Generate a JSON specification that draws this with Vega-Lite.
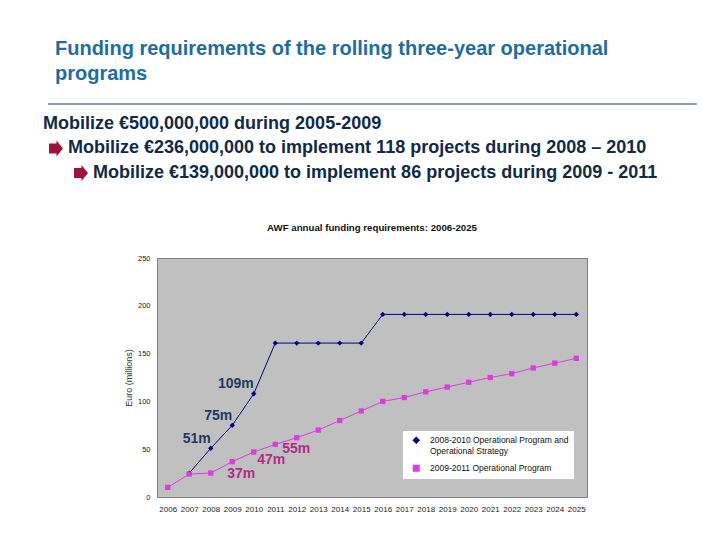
{
  "$schema": "https://vega.github.io/schema/vega-lite/v6.json",
  "width": 430,
  "height": 239,
  "autosize": {"type": "none"},
  "padding": {"left": 157, "top": 258, "right": 133, "bottom": 44},
  "background": "#ffffff",
  "config": {
    "view": {"fill": "#C0C0C0", "stroke": "#808080", "strokeWidth": 1},
    "font": "Liberation Sans",
    "legend": {
      "title": null,
      "orient": "none",
      "legendX": 246,
      "legendY": 173,
      "fillColor": "#FFFFFF",
      "padding": 5,
      "labelFont": "Liberation Sans",
      "labelFontSize": 8.5,
      "labelColor": "#111111",
      "labelLimit": 300,
      "labelOffset": 9.5,
      "symbolOffset": 4,
      "rowPadding": 6,
      "symbolSize": 30,
      "symbolOpacity": 1
    }
  },
  "title": {
    "text": "AWF annual funding requirements: 2006-2025",
    "font": "Liberation Sans",
    "fontSize": 9.7,
    "fontWeight": "bold",
    "color": "#111111",
    "anchor": "middle",
    "offset": 24,
    "dy": 218
  },
  "datasets": {
    "funding": [
      {"year": "2007", "program": "2008-2010 Operational Program and Operational Strategy", "value": 25},
      {"year": "2008", "program": "2008-2010 Operational Program and Operational Strategy", "value": 51},
      {"year": "2009", "program": "2008-2010 Operational Program and Operational Strategy", "value": 75},
      {"year": "2010", "program": "2008-2010 Operational Program and Operational Strategy", "value": 108},
      {"year": "2011", "program": "2008-2010 Operational Program and Operational Strategy", "value": 161},
      {"year": "2012", "program": "2008-2010 Operational Program and Operational Strategy", "value": 161},
      {"year": "2013", "program": "2008-2010 Operational Program and Operational Strategy", "value": 161},
      {"year": "2014", "program": "2008-2010 Operational Program and Operational Strategy", "value": 161},
      {"year": "2015", "program": "2008-2010 Operational Program and Operational Strategy", "value": 161},
      {"year": "2016", "program": "2008-2010 Operational Program and Operational Strategy", "value": 191},
      {"year": "2017", "program": "2008-2010 Operational Program and Operational Strategy", "value": 191},
      {"year": "2018", "program": "2008-2010 Operational Program and Operational Strategy", "value": 191},
      {"year": "2019", "program": "2008-2010 Operational Program and Operational Strategy", "value": 191},
      {"year": "2020", "program": "2008-2010 Operational Program and Operational Strategy", "value": 191},
      {"year": "2021", "program": "2008-2010 Operational Program and Operational Strategy", "value": 191},
      {"year": "2022", "program": "2008-2010 Operational Program and Operational Strategy", "value": 191},
      {"year": "2023", "program": "2008-2010 Operational Program and Operational Strategy", "value": 191},
      {"year": "2024", "program": "2008-2010 Operational Program and Operational Strategy", "value": 191},
      {"year": "2025", "program": "2008-2010 Operational Program and Operational Strategy", "value": 191},
      {"year": "2006", "program": "2009-2011 Operational Program", "value": 10},
      {"year": "2007", "program": "2009-2011 Operational Program", "value": 24},
      {"year": "2008", "program": "2009-2011 Operational Program", "value": 25},
      {"year": "2009", "program": "2009-2011 Operational Program", "value": 37},
      {"year": "2010", "program": "2009-2011 Operational Program", "value": 47},
      {"year": "2011", "program": "2009-2011 Operational Program", "value": 55},
      {"year": "2012", "program": "2009-2011 Operational Program", "value": 62},
      {"year": "2013", "program": "2009-2011 Operational Program", "value": 70},
      {"year": "2014", "program": "2009-2011 Operational Program", "value": 80},
      {"year": "2015", "program": "2009-2011 Operational Program", "value": 90},
      {"year": "2016", "program": "2009-2011 Operational Program", "value": 100},
      {"year": "2017", "program": "2009-2011 Operational Program", "value": 104},
      {"year": "2018", "program": "2009-2011 Operational Program", "value": 110},
      {"year": "2019", "program": "2009-2011 Operational Program", "value": 115},
      {"year": "2020", "program": "2009-2011 Operational Program", "value": 120},
      {"year": "2021", "program": "2009-2011 Operational Program", "value": 125},
      {"year": "2022", "program": "2009-2011 Operational Program", "value": 129},
      {"year": "2023", "program": "2009-2011 Operational Program", "value": 135},
      {"year": "2024", "program": "2009-2011 Operational Program", "value": 140},
      {"year": "2025", "program": "2009-2011 Operational Program", "value": 145}
    ],
    "labels": [
      {"year": "2008", "value": 51, "label": "51m", "program": "2008-2010"},
      {"year": "2009", "value": 75, "label": "75m", "program": "2008-2010"},
      {"year": "2010", "value": 109, "label": "109m", "program": "2008-2010"},
      {"year": "2009", "value": 37, "label": "37m", "program": "2009-2011"},
      {"year": "2010", "value": 47, "label": "47m", "program": "2009-2011"},
      {"year": "2011", "value": 55, "label": "55m", "program": "2009-2011"}
    ],
    "slideTitle": [
      {"text": "Funding requirements of the rolling three-year operational", "line": 1, "level": 0},
      {"text": "programs", "line": 2, "level": 0}
    ],
    "slideRule": [
      {"line": 3, "level": 0.2, "levelEnd": 26.15}
    ],
    "slideBullets": [
      {"text": "Mobilize €500,000,000 during 2005-2009", "line": 4, "level": 0},
      {"text": "Mobilize €236,000,000 to implement 118 projects during 2008 – 2010", "line": 5, "level": 1},
      {"text": "Mobilize €139,000,000 to implement 86 projects during 2009 - 2011", "line": 6, "level": 2}
    ]
  },
  "layer": [
    {
      "layer": [
        {
          "data": {"name": "funding"},
          "mark": {"type": "line", "strokeWidth": 1},
          "encoding": {
            "x": {
              "field": "year", "type": "ordinal",
              "scale": {"type": "point", "padding": 0.5},
              "axis": {"title": null, "labelAngle": 0, "labelFontSize": 8, "labelColor": "#222222", "ticks": false, "domain": false, "labelPadding": 8, "labelOverlap": false, "grid": false}
            },
            "y": {
              "field": "value", "type": "quantitative",
              "scale": {"domain": [0, 250], "nice": false},
              "axis": {"values": [0, 50, 100, 150, 200, 250], "title": "Euro (millions)", "titleFontSize": 9, "titleFontWeight": "normal", "titleColor": "#333333", "titlePadding": 4, "labelFontSize": 7.5, "labelColor": "#222222", "ticks": false, "domain": false, "grid": false, "labelPadding": 7}
            },
            "color": {
              "field": "program", "type": "nominal",
              "scale": {"domain": ["2008-2010 Operational Program and Operational Strategy", "2009-2011 Operational Program"], "range": ["#000080", "#DD3CDD"]},
              "legend": {
                "labelExpr": "datum.label === '2008-2010 Operational Program and Operational Strategy' ? ['2008-2010 Operational Program and', 'Operational Strategy'] : datum.label"
              }
            }
          }
        },
        {
          "data": {"name": "funding"},
          "mark": {"type": "point", "filled": true, "opacity": 1, "size": 28},
          "encoding": {
            "x": {"field": "year", "type": "ordinal"},
            "y": {"field": "value", "type": "quantitative"},
            "color": {
              "field": "program", "type": "nominal",
              "legend": {
                "labelExpr": "datum.label === '2008-2010 Operational Program and Operational Strategy' ? ['2008-2010 Operational Program and', 'Operational Strategy'] : datum.label"
              }
            },
            "shape": {
              "field": "program", "type": "nominal",
              "scale": {"domain": ["2008-2010 Operational Program and Operational Strategy", "2009-2011 Operational Program"], "range": ["diamond", "square"]},
              "legend": null
            }
          }
        },
        {
          "data": {"name": "labels"},
          "transform": [{"filter": "datum.program === '2008-2010'"}],
          "mark": {"type": "text", "align": "right", "baseline": "alphabetic", "dx": 0, "dy": -5, "font": "Liberation Sans", "fontSize": 14, "fontWeight": "bold", "color": "#1E3A5F"},
          "encoding": {
            "x": {"field": "year", "type": "ordinal"},
            "y": {"field": "value", "type": "quantitative"},
            "text": {"field": "label"}
          }
        },
        {
          "data": {"name": "labels"},
          "transform": [{"filter": "datum.label === '37m'"}],
          "mark": {"type": "text", "align": "left", "baseline": "alphabetic", "dx": -5, "dy": 16, "font": "Liberation Sans", "fontSize": 14, "fontWeight": "bold", "color": "#B02C87"},
          "encoding": {
            "x": {"field": "year", "type": "ordinal"},
            "y": {"field": "value", "type": "quantitative"},
            "text": {"field": "label"}
          }
        },
        {
          "data": {"name": "labels"},
          "transform": [{"filter": "datum.label === '47m'"}],
          "mark": {"type": "text", "align": "left", "baseline": "alphabetic", "dx": 3.5, "dy": 12, "font": "Liberation Sans", "fontSize": 14, "fontWeight": "bold", "color": "#B02C87"},
          "encoding": {
            "x": {"field": "year", "type": "ordinal"},
            "y": {"field": "value", "type": "quantitative"},
            "text": {"field": "label"}
          }
        },
        {
          "data": {"name": "labels"},
          "transform": [{"filter": "datum.label === '55m'"}],
          "mark": {"type": "text", "align": "left", "baseline": "alphabetic", "dx": 7, "dy": 9, "font": "Liberation Sans", "fontSize": 14, "fontWeight": "bold", "color": "#B02C87"},
          "encoding": {
            "x": {"field": "year", "type": "ordinal"},
            "y": {"field": "value", "type": "quantitative"},
            "text": {"field": "label"}
          }
        }
      ]
    },
    {
      "layer": [
        {
          "data": {"name": "slideTitle"},
          "mark": {"type": "text", "align": "left", "baseline": "alphabetic", "dx": 12, "font": "Liberation Sans", "fontSize": 20, "fontWeight": "bold", "color": "#1F6CA0"},
          "encoding": {
            "x": {"field": "level", "type": "quantitative", "scale": {"domain": [0, 26], "range": [-114, 536], "nice": false, "zero": false}, "axis": null},
            "y": {"field": "line", "type": "quantitative", "scale": {"domain": [1, 6], "range": [-203, -80.5], "nice": false, "zero": false}, "axis": null},
            "text": {"field": "text"}
          }
        },
        {
          "data": {"name": "slideRule"},
          "mark": {"type": "rule", "color": "#1B3349", "strokeWidth": 1},
          "encoding": {
            "x": {"field": "level", "type": "quantitative", "axis": null},
            "x2": {"field": "levelEnd"},
            "y": {"field": "line", "type": "quantitative", "axis": null}
          }
        },
        {
          "data": {"name": "slideBullets"},
          "mark": {"type": "text", "align": "left", "baseline": "alphabetic", "font": "Liberation Sans", "fontSize": 18, "fontWeight": "bold", "color": "#102A48"},
          "encoding": {
            "x": {"field": "level", "type": "quantitative", "axis": null},
            "y": {"field": "line", "type": "quantitative", "axis": null},
            "text": {"field": "text"}
          }
        },
        {
          "data": {"name": "slideBullets"},
          "transform": [{"filter": "datum.level > 0"}],
          "mark": {"type": "point", "filled": true, "opacity": 1, "size": 400, "color": "#A0123C", "shape": "M-1.9,-0.95L-1.15,-0.95L-1.15,-1.24L-0.5,-0.45L-1.15,0.34L-1.15,0.05L-1.9,0.05Z"},
          "encoding": {
            "x": {"field": "level", "type": "quantitative", "axis": null},
            "y": {"field": "line", "type": "quantitative", "axis": null}
          }
        }
      ]
    }
  ],
  "resolve": {
    "scale": {"x": "independent", "y": "independent"},
    "axis": {"x": "independent", "y": "independent"}
  }
}
